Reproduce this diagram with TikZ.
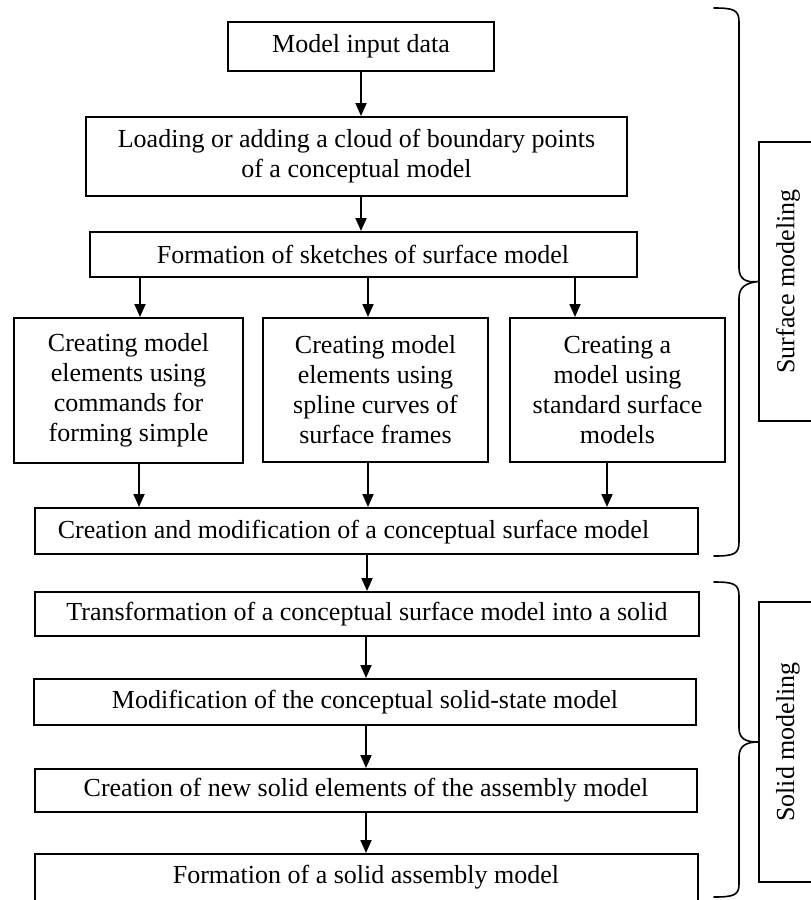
\documentclass[tikz,border=0pt]{standalone}
\usepackage{fontspec}
\setmainfont{Liberation Serif}
\usetikzlibrary{arrows.meta}
\begin{document}
\begin{tikzpicture}[x=1pt,y=-1pt,
  box/.style={draw=black,line width=2pt,inner sep=0pt,align=center,
    font=\fontsize{26}{30}\selectfont},
  txt/.style={inner sep=0pt,align=center,font=\fontsize{26}{30}\selectfont},
  arr/.style={line width=1.8pt,-{Triangle[length=13pt,width=11pt]}},
  brace/.style={line width=1.6pt,line cap=round,line join=round}]
\useasboundingbox (0,0) rectangle (811,900);
\clip (0,0) rectangle (811,900);
% boxes
\node[box,minimum width=266pt,minimum height=49pt] (b1) at (361,46.5) {Model input data};
\node[box,minimum width=541pt,minimum height=79pt] (b2) at (356.5,156.5) {Loading or adding a cloud of boundary points\\of a conceptual model};
\node[box,minimum width=547pt,minimum height=45pt] (b3) at (363,254.5) {Formation of sketches of surface model};
\node[box,minimum width=229pt,minimum height=145pt] (b4a) at (128.5,390.5) {Creating model\\elements using\\commands for\\forming simple};
\node[box,minimum width=225pt,minimum height=144pt] (b4b) at (375.5,390) {Creating model\\elements using\\spline curves of\\surface frames};
\node[box,minimum width=215pt,minimum height=144pt] (b4c) at (617.5,390) {Creating a\\model using\\standard surface\\models};
\node[box,minimum width=663pt,minimum height=46pt] (b5) at (366.5,531) {};
\node[txt] (t5) at (353.5,532) {Creation and modification of a conceptual surface model};
\node[box,minimum width=664pt,minimum height=44pt] (b6) at (367,614) {Transformation of a conceptual surface model into a solid};
\node[box,minimum width=662pt,minimum height=46pt] (b7) at (365,702) {Modification of the conceptual solid-state model};
\node[box,minimum width=662pt,minimum height=43pt] (b8) at (366,790.5) {Creation of new solid elements of the assembly model};
\node[box,minimum width=663pt,minimum height=56pt] (b9) at (366.5,882) {};
\node[txt] (t9) at (366,877) {Formation of a solid assembly model};
% side label boxes
\node[box,minimum width=56pt,minimum height=279pt] (s1) at (787,281.5) {};
\node[txt,rotate=90] (ts1) at (788,281.5) {Surface modeling};
\node[box,minimum width=56pt,minimum height=280pt] (s2) at (787,742) {};
\node[txt,rotate=90] (ts2) at (788,742) {Solid modeling};
% arrow x positions
\coordinate (xa) at (140,0);
\coordinate (xb) at (368,0);
\coordinate (xc) at (575,0);
\coordinate (xd) at (139,0);
\coordinate (xe) at (607,0);
\coordinate (xf) at (366,0);
\coordinate (xg) at (367,0);
% arrows
\draw[arr] (b1.south) -- (b1.south |- b2.north);
\draw[arr] (b2.south -| b1.south) -- (b1.south |- b3.north);
\draw[arr] (b3.south -| xa) -- (b4a.north -| xa);
\draw[arr] (b3.south -| xb) -- (b4b.north -| xb);
\draw[arr] (b3.south -| xc) -- (b4c.north -| xc);
\draw[arr] (b4a.south -| xd) -- (b5.north -| xd);
\draw[arr] (b4b.south -| xb) -- (b5.north -| xb);
\draw[arr] (b4c.south -| xe) -- (b5.north -| xe);
\draw[arr] (b5.south -| xg) -- (b6.north -| xg);
\draw[arr] (b6.south -| xf) -- (b7.north -| xf);
\draw[arr] (b7.south -| xf) -- (b8.north -| xf);
\draw[arr] (b8.south -| xf) -- (b9.north -| xf);
% braces
\draw[brace] (714,8) .. controls (734,8) and (739,10) .. (739,22)
  -- (739,268) .. controls (739,279) and (746,283) .. (s1.west)
  .. controls (746,283) and (739,287) .. (739,298)
  -- (739,542) .. controls (739,554) and (734,556) .. (714,556);
\draw[brace] (714,582) .. controls (734,582) and (739,584) .. (739,596)
  -- (739,728) .. controls (739,739) and (746,742) .. (s2.west)
  .. controls (746,742) and (739,746) .. (739,757)
  -- (739,884) .. controls (739,895) and (734,897) .. (714,897);
\end{tikzpicture}
\end{document}
